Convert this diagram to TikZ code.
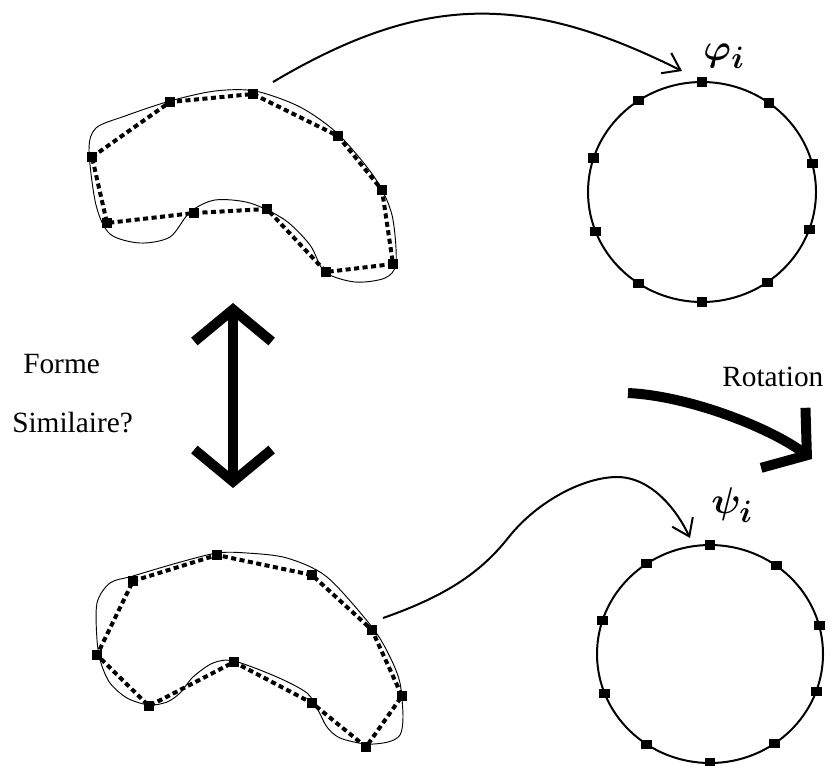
\documentclass[tikz,border=0pt]{standalone}
\usepackage{graphicx}
\usepackage{fontspec}
\setmainfont{Liberation Serif}
\usetikzlibrary{arrows.meta}

\begin{document}
\begin{tikzpicture}[
    x=0.75pt, y=-0.75pt,
    sq/.style={rectangle, fill=black, inner sep=0pt, minimum width=8.2pt, minimum height=6.8pt},
    blob/.style={line width=0.7pt},
    poly/.style={line width=3pt, dash pattern=on 3.8pt off 2.6pt},
    ring/.style={line width=1.5pt},
    link/.style={line width=1.5pt, -{Straight Barb[length=12pt, width=17pt]}},
    fat/.style={line width=7.5pt},
    lbl/.style={font=\fontsize{22}{26}\selectfont, inner sep=0pt, anchor=base west},
    sym/.style={font=\Huge\boldmath, inner sep=0pt}
]
\useasboundingbox (0,0) rectangle (830,765);

% top shape
\draw[blob] plot[smooth cycle] coordinates {(89,150) (96,128) (125,116) (170,101) (215,91) (255,91)
    (300,107) (338,134) (375,178) (392,215) (396,263) (385,278) (355,282) (325,272) (310,245)
    (285,220) (250,203) (215,200) (190,212) (170,237) (140,243) (110,234) (96,205)};
\foreach \n/\x/\y in {1/92/157, 2/170/102, 3/253/94, 4/338/136, 5/382/190,
    6/393/264, 7/326/272, 8/267/209, 9/194/213, 10/107/223}
    \coordinate (a\n) at (\x,\y);
\draw[poly] (a1) -- (a2) -- (a3) -- (a4) -- (a5) -- (a6) -- (a7) -- (a8) -- (a9) -- (a10) -- cycle;
\foreach \i in {1,...,10} \node[sq] at (a\i) {};

% bottom shape
\draw[blob] plot[smooth cycle] coordinates {(97,603) (110,583) (133,576) (177,563) (217,553) (247,553)
    (287,558) (327,577) (372,627) (390,657) (400,683) (403,717) (400,735) (388,742) (366,744)
    (340,738) (327,727) (318,710) (307,693) (277,677) (234,661) (213,663) (193,677) (180,693)
    (167,702) (149,705) (127,698) (110,683) (101,663) (97,640)};
\foreach \n/\x/\y in {1/133/581, 2/217/555, 3/312/575, 4/372/630, 5/402/696,
    6/366/747, 7/312/703, 8/234/662, 9/149/706, 10/97/655}
    \coordinate (b\n) at (\x,\y);
\draw[poly] (b1) -- (b2) -- (b3) -- (b4) -- (b5) -- (b6) -- (b7) -- (b8) -- (b9) -- (b10) -- cycle;
\foreach \i in {1,...,10} \node[sq] at (b\i) {};

% circles
\coordinate (c1) at (702,192);
\coordinate (c2) at (710,654);
\draw[ring] (c1) ellipse [x radius=114, y radius=110];
\draw[ring] (c2) ellipse [x radius=113, y radius=109];
\foreach \a in {-90,-54,-15,20,55,90,124,159,198,236} {
    \node[sq] at ([shift={(\a:114 and 110)}]c1) {};
    \node[sq] at ([shift={(\a:113 and 109)}]c2) {};
}
\node[sym] (phi) at (724,56) {\scalebox{1.12}{$\varphi_i$}};
\node[sym] (psi) at (732,505) {\scalebox{1.12}{$\psi_i$}};

% connectors
\coordinate (s1) at (273,82);
\coordinate (e1) at (682,71);
\coordinate (s2) at (383,618);
\coordinate (e2) at (690,538);
\draw[link] (s1) .. controls (423,-7) and (526,-7) .. (e1);
\draw[link] (s2) .. controls (440,598) and (478,576) .. (508,538)
    .. controls (538,500) and (585,477) .. (617,477)
    .. controls (650,477) and (676,508) .. (e2);

% big arrows
\coordinate (up) at (233,303);
\coordinate (dn) at (233,488);
\draw[fat, {Straight Barb[length=24pt, width=58pt]}-{Straight Barb[length=24pt, width=58pt]}] (dn) -- (up);
\coordinate (r0) at (628,393);
\coordinate (r1) at (812,459);
\draw[fat, -{Straight Barb[length=22pt, width=56pt]}] (r0) .. controls (690,396) and (770,428) .. (r1);

\node[lbl] (forme) at (23,373) {Forme};
\node[lbl] (simil) at (12,432) {Similaire?};
\node[lbl] (rot) at (722,386) {Rotation};
\end{tikzpicture}
\end{document}
